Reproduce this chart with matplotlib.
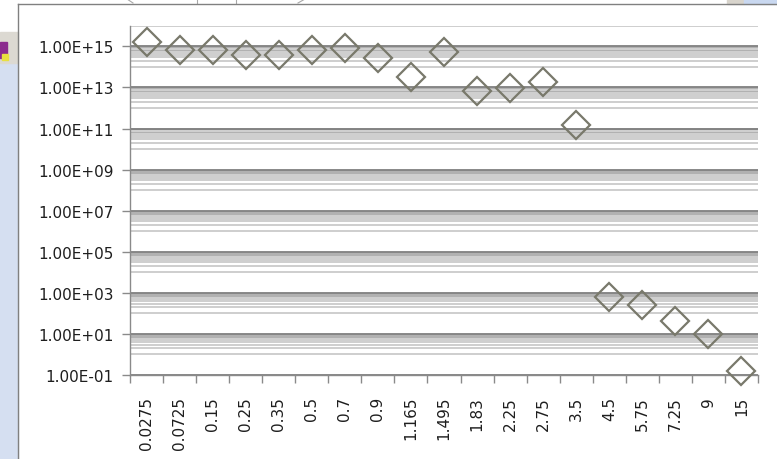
import numpy as np
import matplotlib
matplotlib.use("Agg")
import matplotlib.pyplot as plt
from matplotlib.patches import Rectangle
from matplotlib.lines import Line2D
from matplotlib.ticker import FixedLocator, NullFormatter

# Particle size classes and the counts measured in each
sizes = ["0.0275", "0.0725", "0.15", "0.25", "0.35", "0.5", "0.7", "0.9", "1.165",
         "1.495", "1.83", "2.25", "2.75", "3.5", "4.5", "5.75", "7.25", "9", "15"]
counts = [1.7e15, 6.9e14, 6.9e14, 3.8e14, 3.8e14, 6.9e14, 8.1e14, 2.7e14, 3.1e13,
          5.5e14, 6.5e12, 9.4e12, 1.9e13, 1.5e11, 6.0e2, 2.6e2, 41, 10, 0.16]

y_major_exp = list(range(-1, 16, 2))
y_minor_exp = list(range(0, 17, 2))

W, H = 777, 460
fig = plt.figure(figsize=(W / 100, H / 100), dpi=100)

# Window chrome around the chart
bg = fig.add_axes([0, 0, 1, 1], zorder=-1)
bg.set_xlim(0, W)
bg.set_ylim(H, 0)
bg.axis("off")
bg.add_patch(Rectangle((0, 0), W, H, color="white"))
bg.add_patch(Rectangle((0, 64), 17.5, H - 64, color="#d5dff1"))
bg.add_patch(Rectangle((0, 33), 17.5, 31, color="#dcd9d2"))
bg.add_patch(Rectangle((0, 43), 7, 16, color="#8b2a8e"))
bg.add_patch(Rectangle((2, 55), 5.5, 6, color="#e8e040"))
bg.add_patch(Rectangle((727, 0), 17, 4.5, color="#d8d4cc"))
bg.add_patch(Rectangle((744, 0), W - 744, 4.5, color="#c9d8f0"))
for xs, ys in [([127, 133], [0, 4]), ([197, 197], [0, 4]), ([236, 236], [0, 4]),
               ([305, 298], [0, 4])]:
    bg.add_line(Line2D(xs, ys, color="#a8a8a8", lw=0.8))
bg.add_line(Line2D([18, W], [4.5, 4.5], color="#808080", lw=1.0))
bg.add_line(Line2D([18, 18], [4.5, H], color="#808080", lw=1.0))

# Chart
left, right, top, bottom = 130, 758, 26.8, 376
ax = fig.add_axes([left / W, 1 - bottom / H, (right - left) / W, (bottom - top) / H])
ax.set_facecolor("white")

x = np.arange(len(sizes))
ax.plot(x, counts, linestyle="none", marker="D", markersize=14.2,
        markerfacecolor="none", markeredgecolor="#79796b", markeredgewidth=1.6,
        zorder=3, clip_on=False)

ax.set_yscale("log")
ax.set_ylim(1e-1, 1e16)
ax.set_xlim(-0.5, len(sizes) - 0.5)

major_vals = [10.0 ** e for e in y_major_exp]
minor_vals = [k * 10.0 ** e for e in y_minor_exp for k in range(1, 10) if k * 10.0 ** e <= 1e16]
ax.yaxis.set_major_locator(FixedLocator(major_vals))
ax.yaxis.set_minor_locator(FixedLocator(minor_vals))
ax.yaxis.set_minor_formatter(NullFormatter())
ax.set_yticklabels([f"{v:.2E}" for v in major_vals])

ax.xaxis.set_major_locator(FixedLocator(x))
ax.xaxis.set_minor_locator(FixedLocator(np.arange(-0.5, len(sizes), 1.0)))
ax.set_xticklabels(sizes, rotation=90)

# Crowded minor lines blend into a darker band just below each labelled decade
ax.grid(which="minor", axis="y", color="#808080", alpha=0.38, lw=1.4)
ax.grid(which="major", axis="y", color="#888888", lw=1.4)
ax.set_axisbelow(True)

text_color = "#1e1e1e"
ax.tick_params(axis="y", which="major", direction="out", length=6, width=1,
               color="#8a8a8a", pad=6, labelsize=11, labelcolor=text_color)
ax.tick_params(axis="y", which="minor", length=0)
ax.tick_params(axis="x", which="major", length=0, pad=15, labelsize=11,
               labelcolor=text_color)
ax.tick_params(axis="x", which="minor", direction="out", length=6, width=1,
               color="#8a8a8a")

for side in ("top", "right"):
    ax.spines[side].set_visible(False)
for side in ("left", "bottom"):
    ax.spines[side].set_color("#8a8a8a")
    ax.spines[side].set_linewidth(1.0)

fig.savefig("out.png", dpi=100)
